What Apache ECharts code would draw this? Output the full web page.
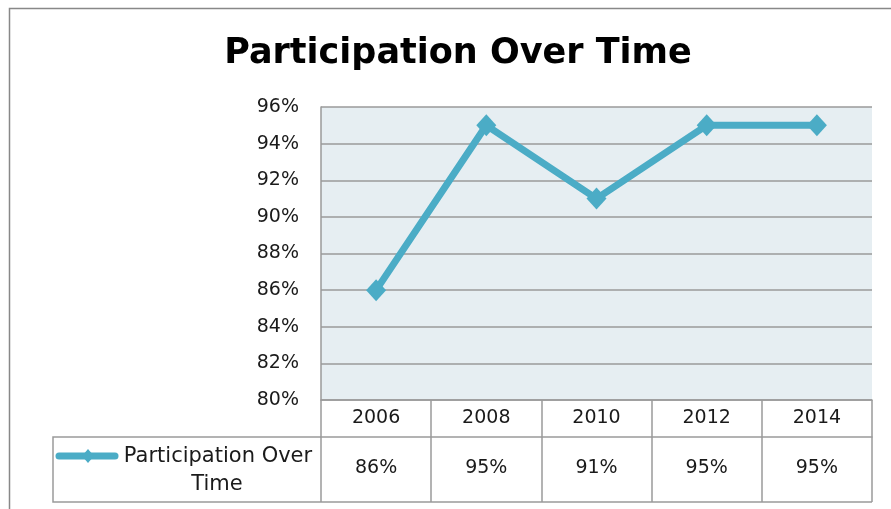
<!DOCTYPE html>
<html><head><meta charset="utf-8">
<script src="https://cdn.jsdelivr.net/npm/echarts@6/dist/echarts.min.js"></script>
<style>html,body{margin:0;padding:0;background:#fff}#c{width:891px;height:509px}</style>
</head><body><div id="c"></div>
<script>
const title = 'Participation Over Time';
const seriesName = 'Participation Over Time';
const legendLines = ['Participation Over', 'Time'];
const years = ['2006', '2008', '2010', '2012', '2014'];
const values = [86, 95, 91, 95, 95];
const yTicks = { min: 80, max: 96, step: 2 };

const FONT = 'DejaVu Sans';
const GRAY = '#9a9a9a';
const LINE = '#4bacc6';
const FS = 19;
const chart = echarts.init(document.getElementById('c'));
chart.setOption({
  animation: false,
  backgroundColor: '#fff',
  title: {
    text: title, left: 453, top: 31, textAlign: 'center',
    textStyle: { fontFamily: FONT, fontWeight: 'bold', fontSize: 35, color: '#000' }
  },
  grid: { left: 321, top: 107, right: 19, bottom: 109 },
  xAxis: [{
    type: 'category', data: years, position: 'bottom',
    axisLine: { show: true, lineStyle: { color: GRAY, width: 1.5 } },
    axisTick: { show: true, length: 102, inside: false, lineStyle: { color: GRAY, width: 1.5 } },
    axisLabel: { margin: 9, fontFamily: FONT, fontSize: FS, color: '#1a1a1a' }
  }, {
    type: 'category', data: values.map(v => v + '%'), position: 'bottom', offset: 37,
    axisLine: { show: true, lineStyle: { color: GRAY, width: 1.5 } },
    axisTick: { show: false },
    axisLabel: { margin: 22, fontFamily: FONT, fontSize: FS, color: '#1a1a1a' }
  }],
  yAxis: {
    type: 'value', min: yTicks.min, max: yTicks.max, interval: yTicks.step,
    axisLine: { show: true, lineStyle: { color: GRAY, width: 1.5 } },
    axisTick: { show: false },
    axisLabel: { formatter: '{value}%', margin: 22, fontFamily: FONT, fontSize: FS, color: '#1a1a1a' },
    splitLine: { show: true, lineStyle: { color: GRAY, width: 1.5 } },
    splitArea: { show: true, areaStyle: { color: ['#e6eef2', '#e6eef2'] } }
  },
  graphic: [
    { type: 'rect', shape: { x: 9.5, y: 8.5, width: 900, height: 520 }, style: { fill: 'none', stroke: '#888', lineWidth: 1.5 }, silent: true, z: -10 },
    { type: 'polyline', shape: { points: [[321, 437], [53, 437], [53, 502], [872, 502]] }, style: { fill: 'none', stroke: GRAY, lineWidth: 1.5 }, silent: true },
    { type: 'line', shape: { x1: 59, y1: 456, x2: 115, y2: 456 }, style: { stroke: LINE, lineWidth: 7, lineCap: 'round' }, silent: true },
    { type: 'polygon', shape: { points: [[88, 449], [94, 456], [88, 463], [82, 456]] }, style: { fill: LINE }, silent: true },
    { type: 'text', x: 218, y: 457, style: { text: legendLines[0], fontFamily: FONT, fontSize: 21, fill: '#1a1a1a', align: 'center', verticalAlign: 'middle' }, silent: true },
    { type: 'text', x: 217, y: 485, style: { text: legendLines[1], fontFamily: FONT, fontSize: 21, fill: '#1a1a1a', align: 'center', verticalAlign: 'middle' }, silent: true }
  ],
  series: [{
    name: seriesName, type: 'line', data: values, xAxisIndex: 0,
    symbol: 'diamond', symbolSize: [20, 22], showSymbol: true,
    lineStyle: { color: LINE, width: 7 },
    itemStyle: { color: LINE }
  }]
});
</script></body></html>
